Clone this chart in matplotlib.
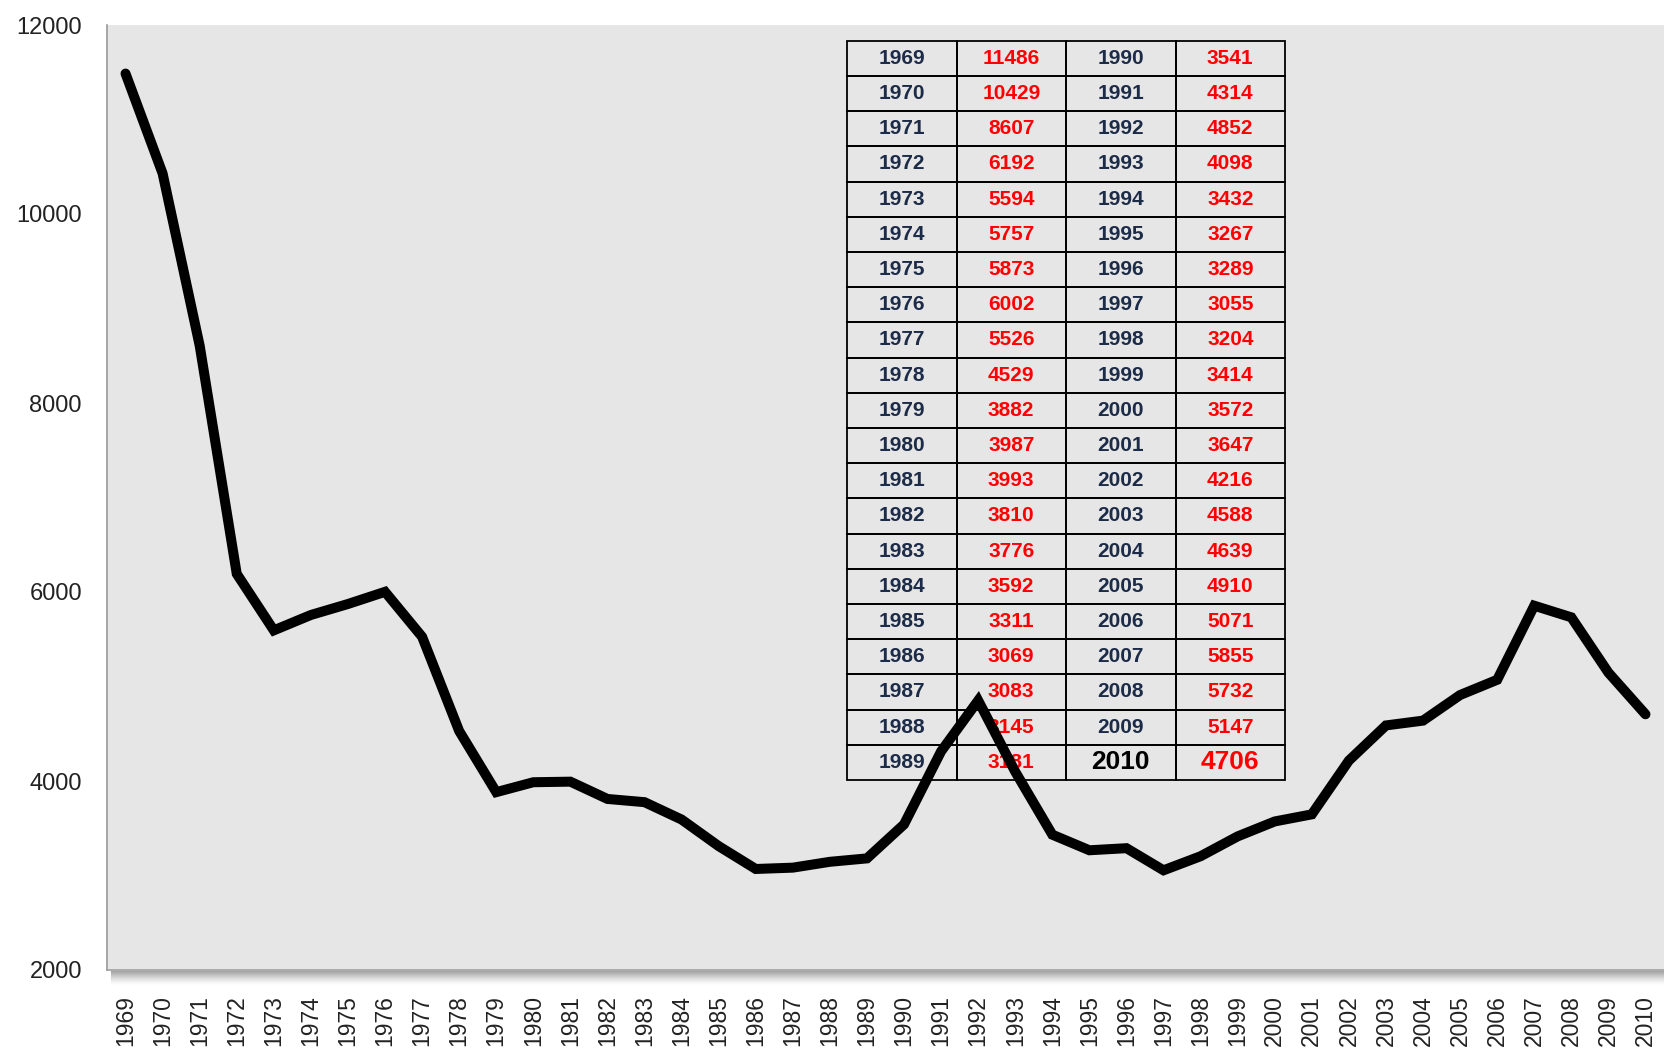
import matplotlib
matplotlib.use("Agg")
import matplotlib.pyplot as plt
from matplotlib.lines import Line2D

years = list(range(1969, 2011))
values = [11486, 10429, 8607, 6192, 5594, 5757, 5873, 6002, 5526, 4529,
          3882, 3987, 3993, 3810, 3776, 3592, 3311, 3069, 3083, 3145,
          3181, 3541, 4314, 4852, 4098, 3432, 3267, 3289, 3055, 3204,
          3414, 3572, 3647, 4216, 4588, 4639, 4910, 5071, 5855, 5732,
          5147, 4706]
y_ticks = [2000, 4000, 6000, 8000, 10000, 12000]

W, H = 1664, 1052
fig = plt.figure(figsize=(W / 100, H / 100), dpi=100)
fig.patch.set_facecolor("white")
ax_l, ax_r, ax_t, ax_b = 107, 1664, 25, 970
ax = fig.add_axes([ax_l / W, 1 - ax_b / H, (ax_r - ax_l) / W, (ax_b - ax_t) / H])
ax.set_facecolor("#E6E6E6")

x = list(range(len(years)))
ax.plot(x, values, color="black", lw=7.2, solid_capstyle="round",
        solid_joinstyle="miter", zorder=5)
ax.set_xlim(-0.5, len(years) - 0.5)
ax.set_ylim(2000, 12000)
ax.set_xticks(x)
ax.set_xticklabels([str(y) for y in years], rotation=90, fontsize=16.5,
                   family="Liberation Sans", color="#222222")
ax.set_yticks(y_ticks)
ax.set_yticklabels([str(v) for v in y_ticks], fontsize=17,
                   family="Liberation Sans", color="#222222")
ax.tick_params(axis="x", length=0, pad=18)
ax.tick_params(axis="y", length=0, pad=18)
for s in ["top", "right"]:
    ax.spines[s].set_visible(False)
ax.spines["left"].set_color("#9A9A9A")
ax.spines["left"].set_linewidth(1.2)
ax.spines["bottom"].set_color("#A0A0A0")
ax.spines["bottom"].set_linewidth(1.2)

# shadow below the plot area
for i in range(14):
    yy = 1 - (ax_b + 1 + i) / H
    a = 0.55 * (1 - i / 14) ** 1.5
    fig.add_artist(Line2D([(ax_l + 4) / W, 1], [yy, yy], color="#606060",
                          alpha=a, lw=0.8, transform=fig.transFigure))

# table
left_years = years[:21]
left_vals = values[:21]
right_years = years[21:]
right_vals = values[21:]
cell_text = [[str(a), str(b), str(c), str(d)]
             for a, b, c, d in zip(left_years, left_vals, right_years, right_vals)]

t_l, t_r, t_t, t_b = 847, 1285, 40.7, 780
bbox = [(t_l - ax_l) / (ax_r - ax_l), (ax_b - t_b) / (ax_b - ax_t),
        (t_r - t_l) / (ax_r - ax_l), (t_b - t_t) / (ax_b - ax_t)]
tbl = ax.table(cellText=cell_text, cellLoc="center", bbox=bbox, zorder=3)
tbl.auto_set_font_size(False)
nrows = len(cell_text)
for (r, c), cell in tbl.get_celld().items():
    cell.set_facecolor("none")
    cell.set_edgecolor("black")
    cell.set_linewidth(1.3)
    txt = cell.get_text()
    txt.set_fontfamily("Liberation Sans")
    txt.set_fontweight("bold")
    txt.set_fontsize(15)
    if c in (0, 2):
        txt.set_color("#1C2B47")
    else:
        txt.set_color("#FF0000")
    if r == nrows - 1 and c in (2, 3):
        txt.set_fontsize(19)
        if c == 2:
            txt.set_color("black")

fig.savefig("out.png", dpi=100, facecolor=fig.get_facecolor())
